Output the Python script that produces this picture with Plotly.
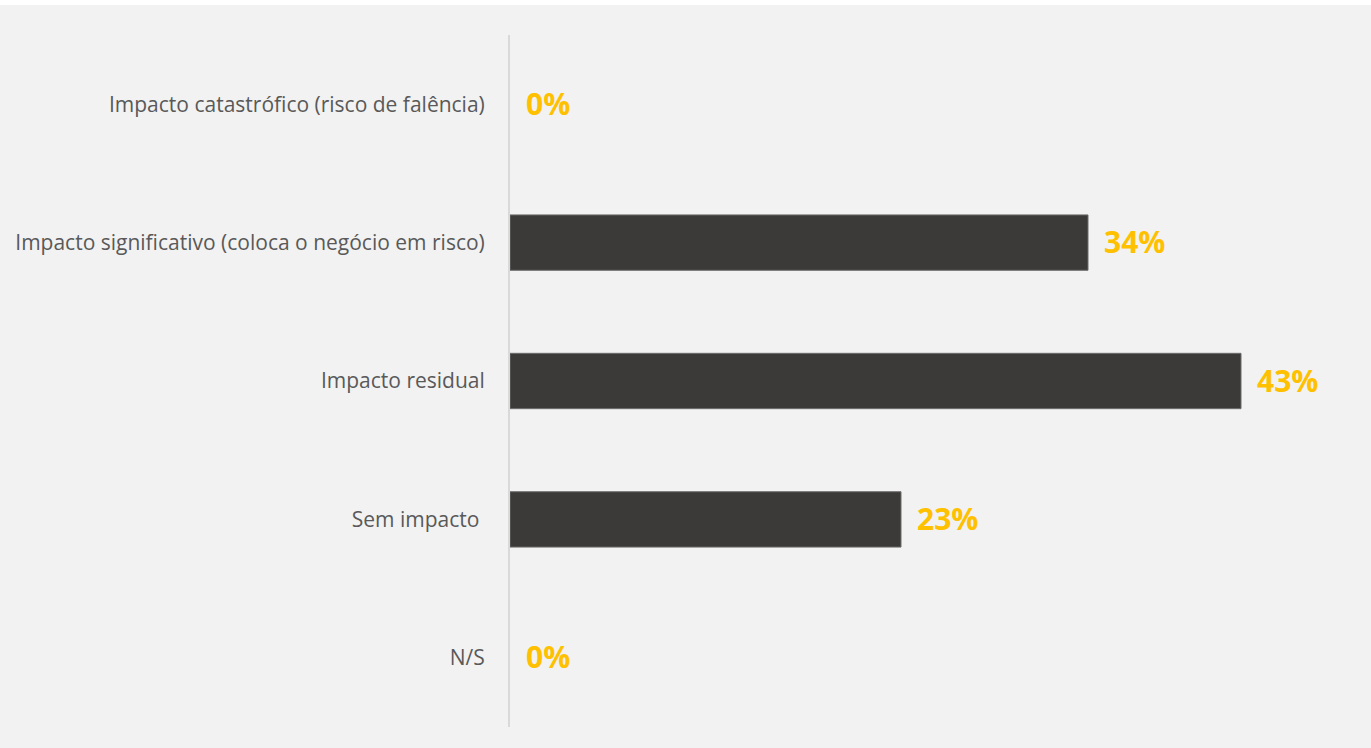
import plotly.graph_objects as go

# Survey answers: expected impact on the business
categories = [
    "Impacto catastrófico (risco de falência)",
    "Impacto significativo (coloca o negócio em risco)",
    "Impacto residual",
    "Sem impacto ",
    "N/S",
]
values = [0, 34, 43, 23, 0]
value_labels = [f"{v}%" for v in values]

BAR_COLOR = "#3b3a38"
LABEL_COLOR = "#FFC000"
TEXT_COLOR = "#595959"
BG = "#f2f2f2"
FONT = "Open Sans, Lato, sans-serif"

W, H = 1371, 748
M_L, M_R, M_T, M_B = 510, 11, 35, 21
plot_h = H - M_T - M_B

fig = go.Figure()
fig.add_trace(go.Bar(
    x=values,
    y=categories,
    orientation="h",
    width=0.4,
    marker=dict(
        color=BAR_COLOR,
        line=dict(color="#6d6d6d", width=[1 if v > 0 else 0 for v in values]),
    ),
    hoverinfo="x+y",
))

# Value labels to the right of each bar
for cat, v, lab in zip(categories, values, value_labels):
    fig.add_annotation(
        x=v, y=cat, text=f"<b>{lab}</b>", showarrow=False,
        xanchor="left", yanchor="middle", xshift=14, yshift=1,
        font=dict(family=FONT, size=30, color=LABEL_COLOR),
    )

# White strip along the top edge of the figure
fig.add_shape(
    type="rect", xref="paper", yref="paper",
    x0=-M_L / (W - M_L - M_R), x1=1 + M_R / (W - M_L - M_R),
    y0=1 + (M_T - 5) / plot_h, y1=1 + M_T / plot_h,
    fillcolor="white", line=dict(width=0), layer="below",
)

fig.update_layout(
    width=W, height=H,
    margin=dict(l=M_L, r=M_R, t=M_T, b=M_B),
    paper_bgcolor=BG, plot_bgcolor=BG,
    showlegend=False,
    bargap=0.6,
    xaxis=dict(range=[0, 50], visible=False, fixedrange=True),
    yaxis=dict(
        categoryorder="array", categoryarray=categories,
        autorange="reversed",
        showline=True, linecolor="#d9d9d9", linewidth=2,
        showgrid=False, zeroline=False, ticks="",
        ticklabelstandoff=19,
        tickfont=dict(family=FONT, size=21, color=TEXT_COLOR),
    ),
)

fig.write_html("out.html")
